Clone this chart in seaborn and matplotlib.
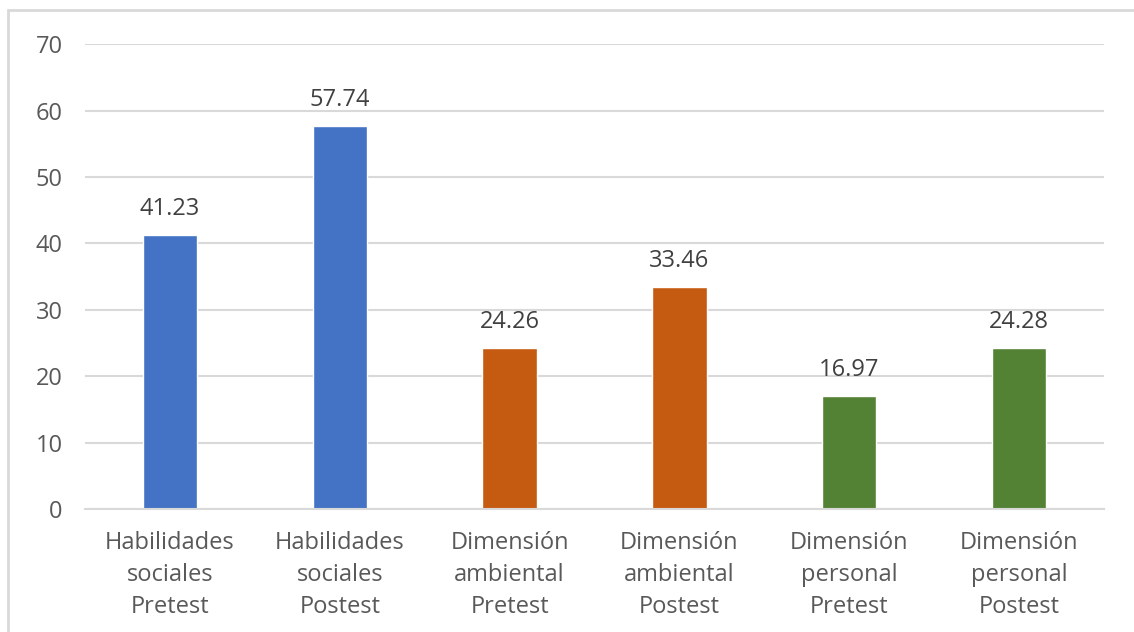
import numpy as np
import pandas as pd
import seaborn as sns
import matplotlib.pyplot as plt
from matplotlib.patches import Rectangle

categories = ['Habilidades\nsociales\nPretest', 'Habilidades\nsociales\nPostest',
              'Dimensión\nambiental\nPretest', 'Dimensión\nambiental\nPostest',
              'Dimensión\npersonal\nPretest', 'Dimensión\npersonal\nPostest']
values = [41.23, 57.74, 24.26, 33.46, 16.97, 24.28]
colors = ['#4472C4', '#4472C4', '#C55A11', '#C55A11', '#548235', '#548235']

df = pd.DataFrame({'cat': categories, 'val': values})

sns.set_style('white')
plt.rcParams['font.family'] = ['Open Sans', 'DejaVu Sans']
txt = '#595959'
fontsize = 17

fig = plt.figure(figsize=(11.34, 6.32), dpi=100)
ax = fig.add_axes([0.075, 0.1946, 0.8985, 0.7354])

sns.barplot(data=df, x='cat', y='val', hue='cat', palette=colors,
            width=0.32, legend=False, ax=ax, saturation=1)

for c in ax.containers:
    ax.bar_label(c, fmt='%.2f', padding=10, fontsize=fontsize, color='#404040')

ax.set_ylim(0, 70)
ax.set_yticks(range(0, 71, 10))
ax.set_xlim(-0.5, 5.5)
ax.grid(axis='y', color='#d9d9d9', lw=1.5)
ax.set_axisbelow(True)
for s in ['top', 'right', 'left']:
    ax.spines[s].set_visible(False)
ax.spines['bottom'].set_color('#d9d9d9')
ax.spines['bottom'].set_linewidth(1.5)
ax.tick_params(axis='both', length=0, labelsize=fontsize, labelcolor=txt)
ax.tick_params(axis='y', pad=16)
ax.tick_params(axis='x', pad=16)
for lab in ax.get_xticklabels():
    lab.set_linespacing(1.45)
ax.set_xlabel('')
ax.set_ylabel('')

fig.patches.append(Rectangle((0.007, -0.1), 1.2, 1.084, fill=False,
                             edgecolor='#d9d9d9', lw=2, transform=fig.transFigure))

fig.savefig('out.png', dpi=100)
